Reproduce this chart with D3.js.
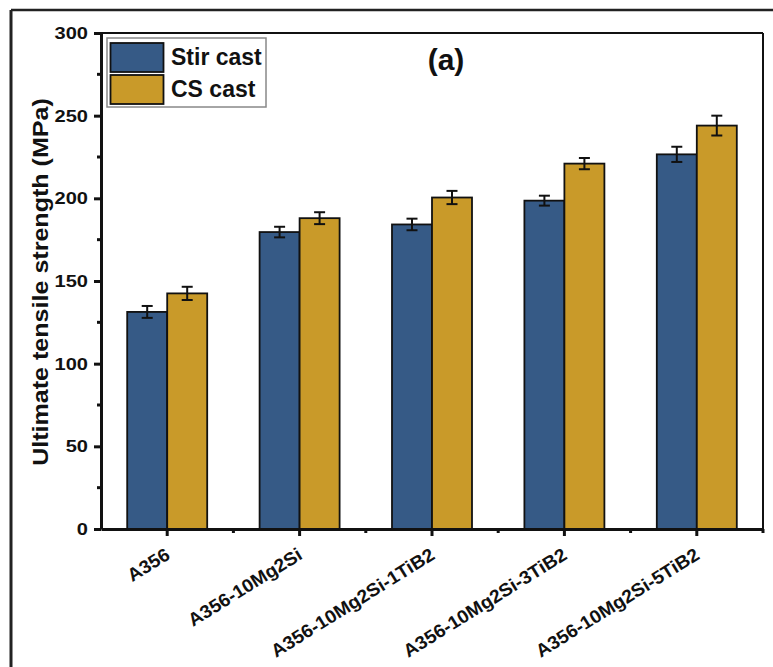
<!DOCTYPE html>
<html>
<head>
<meta charset="utf-8">
<script src="https://cdn.jsdelivr.net/npm/d3@7"></script>
<style>
  body { margin: 0; background: #fff; }
  text { font-family: Arial, "Liberation Sans", sans-serif; font-weight: bold; }
</style>
</head>
<body>
<svg id="chart"></svg>
<script>
// data
var categories = ["A356", "A356-10Mg2Si", "A356-10Mg2Si-1TiB2", "A356-10Mg2Si-3TiB2", "A356-10Mg2Si-5TiB2"];
var seriesNames = ["Stir cast", "CS cast"];
var stirValues = [131.3, 179.6, 184.2, 198.6, 226.6];
var stirErrors = [3.6, 3.2, 3.5, 3.0, 4.6];
var csValues = [142.5, 188.0, 200.5, 221.0, 244.0];
var csErrors = [4.0, 3.6, 4.0, 3.4, 6.0];
var yTicks = [0, 50, 100, 150, 200, 250, 300];
var yMinorTicks = [25, 75, 125, 175, 225, 275];

var width = 773, height = 667;
var colors = ["#365a86", "#c99a29"];

var svg = d3.select("#chart").attr("width", width).attr("height", height);

// plot area
var plotLeft = 101, plotRight = 763, plotTop = 33, plotBottom = 529;

var x = d3.scaleBand().domain(categories).range([plotLeft, plotRight]).padding(0);
var y = d3.scaleLinear().domain([0, 300]).range([plotBottom, plotTop]);
var barW = 40;

// outer frame
svg.append("line").attr("x1", 11).attr("y1", 10).attr("x2", width).attr("y2", 10)
  .attr("stroke", "#222").attr("stroke-width", 2.5);
svg.append("line").attr("x1", 11).attr("y1", 10).attr("x2", 11).attr("y2", height)
  .attr("stroke", "#222").attr("stroke-width", 3);

// bars
var series = [stirValues, csValues];
var errs = [stirErrors, csErrors];
series.forEach(function(vals, s) {
  svg.append("g").selectAll("rect")
    .data(vals)
    .enter().append("rect")
    .attr("x", function(d, i) { return x(categories[i]) + x.bandwidth() / 2 - barW + s * barW; })
    .attr("y", function(d) { return y(d); })
    .attr("width", barW)
    .attr("height", function(d) { return plotBottom - y(d); })
    .attr("fill", colors[s])
    .attr("stroke", "#111")
    .attr("stroke-width", 1.8);
});

// error bars
series.forEach(function(vals, s) {
  var g = svg.append("g").attr("stroke", "#111").attr("stroke-width", 2);
  vals.forEach(function(d, i) {
    var cx = x(categories[i]) + x.bandwidth() / 2 - barW / 2 + s * barW;
    var e = errs[s][i];
    g.append("line").attr("x1", cx).attr("x2", cx).attr("y1", y(d + e)).attr("y2", y(d - e));
    g.append("line").attr("x1", cx - 5.5).attr("x2", cx + 5.5).attr("y1", y(d + e)).attr("y2", y(d + e));
    g.append("line").attr("x1", cx - 5.5).attr("x2", cx + 5.5).attr("y1", y(d - e)).attr("y2", y(d - e));
  });
});

// top and right frame of plot
svg.append("line").attr("x1", plotLeft).attr("y1", plotTop).attr("x2", plotRight).attr("y2", plotTop)
  .attr("stroke", "#111").attr("stroke-width", 2);
svg.append("line").attr("x1", plotRight).attr("y1", plotTop).attr("x2", plotRight).attr("y2", plotBottom)
  .attr("stroke", "#111").attr("stroke-width", 2);

// y axis
var yAxis = svg.append("g").attr("transform", "translate(" + plotLeft + ",0)")
  .call(d3.axisLeft(y).tickValues(yTicks).tickSize(7).tickSizeOuter(0));
yAxis.select(".domain").attr("stroke", "#111").attr("stroke-width", 3);
yAxis.selectAll(".tick line").attr("stroke", "#111").attr("stroke-width", 3);
// the reference font is a bit wider than Liberation Sans, so stretch the labels
yAxis.selectAll(".tick text")
  .attr("x", 0)
  .attr("transform", "translate(-13,0) scale(1.18,1)")
  .attr("font-size", 17).attr("fill", "#111")
  .style("font-family", "Arial, 'Liberation Sans', sans-serif").style("font-weight", "bold");
svg.append("g").selectAll("line").data(yMinorTicks).enter().append("line")
  .attr("x1", plotLeft - 4).attr("x2", plotLeft).attr("y1", function(d) { return y(d); }).attr("y2", function(d) { return y(d); })
  .attr("stroke", "#111").attr("stroke-width", 3);

// x axis
var xAxis = svg.append("g").attr("transform", "translate(0," + plotBottom + ")")
  .call(d3.axisBottom(x).tickSize(7).tickSizeOuter(0).tickFormat(""));
xAxis.select(".domain").attr("stroke", "#111").attr("stroke-width", 3);
xAxis.selectAll(".tick line").attr("stroke", "#111").attr("stroke-width", 3);
// minor ticks between categories
svg.append("g").selectAll("line").data(categories).enter().append("line")
  .attr("x1", function(d) { return x(d) + x.bandwidth(); })
  .attr("x2", function(d) { return x(d) + x.bandwidth(); })
  .attr("y1", plotBottom).attr("y2", plotBottom + 4)
  .attr("stroke", "#111").attr("stroke-width", 3);

// x tick labels, rotated
svg.append("g").selectAll("text").data(categories).enter().append("text")
  .attr("transform", function(d) {
    return "translate(" + (x(d) + x.bandwidth() / 2 + 4) + "," + (plotBottom + 29) + ") rotate(-32) scale(1.04,1)";
  })
  .attr("text-anchor", "end")
  .attr("font-size", 18.5)
  .attr("fill", "#111")
  .text(function(d) { return d; });

// y title
svg.append("text")
  .attr("transform", "translate(48," + ((plotTop + plotBottom) / 2 + 1) + ") rotate(-90) scale(1.14,1)")
  .attr("text-anchor", "middle")
  .attr("font-size", 22)
  .attr("fill", "#111")
  .text("Ultimate tensile strength (MPa)");

// panel label
svg.append("text").attr("x", 446).attr("y", 70)
  .attr("text-anchor", "middle").attr("font-size", 30).attr("fill", "#111")
  .text("(a)");

// legend
var legend = svg.append("g");
legend.append("rect").attr("x", 107).attr("y", 38).attr("width", 159).attr("height", 69)
  .attr("fill", "#fff").attr("stroke", "#888").attr("stroke-width", 1.5);
seriesNames.forEach(function(name, i) {
  legend.append("rect").attr("x", 110.5).attr("y", 43 + i * 32).attr("width", 53).attr("height", 29)
    .attr("fill", colors[i]).attr("stroke", "#111").attr("stroke-width", 1.8);
  legend.append("text").attr("x", 171).attr("y", 65 + i * 32)
    .attr("font-size", 23).attr("fill", "#111").text(name);
});
</script>
</body>
</html>
